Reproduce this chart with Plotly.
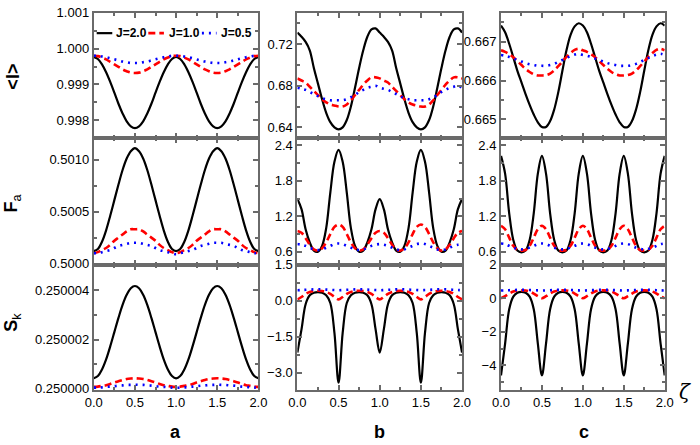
import plotly.graph_objects as go

W, H = 700, 445

zeta = [0.00, 0.05, 0.10, 0.15, 0.20, 0.25, 0.30, 0.35, 0.40, 0.45,
        0.50, 0.55, 0.60, 0.65, 0.70, 0.75, 0.80, 0.85, 0.90, 0.95,
        1.00, 1.05, 1.10, 1.15, 1.20, 1.25, 1.30, 1.35, 1.40, 1.45,
        1.50, 1.55, 1.60, 1.65, 1.70, 1.75, 1.80, 1.85, 1.90, 1.95, 2.00]

labels = ["J=2.0", "J=1.0", "J=0.5"]

# ---- row 1: <I> ----
I_a_J20 = [0.99977, 0.99971, 0.99956, 0.99934, 0.99907, 0.99877, 0.99846, 0.99819, 0.99797, 0.99783,
           0.99778, 0.99783, 0.99797, 0.99819, 0.99846, 0.99877, 0.99907, 0.99934, 0.99956, 0.99971,
           0.99977, 0.99971, 0.99956, 0.99934, 0.99907, 0.99877, 0.99846, 0.99819, 0.99797, 0.99783,
           0.99778, 0.99783, 0.99797, 0.99819, 0.99846, 0.99877, 0.99907, 0.99934, 0.99956, 0.99971, 0.99977]
I_a_J10 = [0.99980, 0.99979, 0.99975, 0.99970, 0.99963, 0.99956, 0.99949, 0.99942, 0.99937, 0.99933,
           0.99932, 0.99933, 0.99937, 0.99942, 0.99949, 0.99956, 0.99963, 0.99970, 0.99975, 0.99979,
           0.99980, 0.99979, 0.99975, 0.99970, 0.99963, 0.99956, 0.99949, 0.99942, 0.99937, 0.99933,
           0.99932, 0.99933, 0.99937, 0.99942, 0.99949, 0.99956, 0.99963, 0.99970, 0.99975, 0.99979, 0.99980]
I_a_J05 = [0.99980, 0.99980, 0.99978, 0.99976, 0.99973, 0.99970, 0.99967, 0.99964, 0.99962, 0.99960,
           0.99960, 0.99960, 0.99962, 0.99964, 0.99967, 0.99970, 0.99973, 0.99976, 0.99978, 0.99980,
           0.99980, 0.99980, 0.99978, 0.99976, 0.99973, 0.99970, 0.99967, 0.99964, 0.99962, 0.99960,
           0.99960, 0.99960, 0.99962, 0.99964, 0.99967, 0.99970, 0.99973, 0.99976, 0.99978, 0.99980, 0.99980]

I_b_J20 = [0.731, 0.727, 0.722, 0.714, 0.697, 0.682, 0.667, 0.654, 0.645, 0.640,
           0.638, 0.640, 0.647, 0.660, 0.678, 0.697, 0.714, 0.727, 0.734, 0.735,
           0.731, 0.727, 0.722, 0.714, 0.697, 0.682, 0.667, 0.654, 0.645, 0.640,
           0.638, 0.640, 0.647, 0.660, 0.678, 0.697, 0.714, 0.727, 0.734, 0.735, 0.731]
I_b_J10 = [0.687, 0.685, 0.683, 0.679, 0.675, 0.671, 0.667, 0.664, 0.662, 0.661,
           0.660, 0.660, 0.662, 0.666, 0.671, 0.676, 0.681, 0.685, 0.688, 0.688,
           0.687, 0.685, 0.683, 0.679, 0.675, 0.671, 0.667, 0.664, 0.662, 0.661,
           0.660, 0.660, 0.662, 0.666, 0.671, 0.676, 0.681, 0.685, 0.688, 0.688, 0.687]
I_b_J05 = [0.678, 0.677, 0.676, 0.674, 0.672, 0.670, 0.668, 0.667, 0.666, 0.666,
           0.666, 0.666, 0.667, 0.669, 0.671, 0.674, 0.676, 0.678, 0.679, 0.680,
           0.678, 0.677, 0.676, 0.674, 0.672, 0.670, 0.668, 0.667, 0.666, 0.666,
           0.666, 0.666, 0.667, 0.669, 0.671, 0.674, 0.676, 0.678, 0.679, 0.680, 0.678]

I_c_J20 = [0.66742, 0.66725, 0.66695, 0.66660, 0.66625, 0.66595, 0.66565, 0.66537, 0.66512, 0.66492,
           0.66480, 0.66480, 0.66495, 0.66525, 0.66570, 0.66625, 0.66678, 0.66718, 0.66740, 0.66748,
           0.66742, 0.66725, 0.66695, 0.66660, 0.66625, 0.66595, 0.66565, 0.66537, 0.66512, 0.66492,
           0.66480, 0.66480, 0.66495, 0.66525, 0.66570, 0.66625, 0.66678, 0.66718, 0.66740, 0.66748, 0.66742]
I_c_J10 = [0.66678, 0.66674, 0.66668, 0.66660, 0.66650, 0.66640, 0.66630, 0.66622, 0.66616, 0.66613,
           0.66613, 0.66614, 0.66618, 0.66626, 0.66637, 0.66649, 0.66661, 0.66671, 0.66679, 0.66682,
           0.66678, 0.66674, 0.66668, 0.66660, 0.66650, 0.66640, 0.66630, 0.66622, 0.66616, 0.66613,
           0.66613, 0.66614, 0.66618, 0.66626, 0.66637, 0.66649, 0.66661, 0.66671, 0.66679, 0.66682, 0.66678]
I_c_J05 = [0.66666, 0.66664, 0.66661, 0.66657, 0.66653, 0.66649, 0.66645, 0.66642, 0.66640, 0.66638,
           0.66638, 0.66638, 0.66640, 0.66643, 0.66648, 0.66653, 0.66658, 0.66663, 0.66667, 0.66669,
           0.66666, 0.66664, 0.66661, 0.66657, 0.66653, 0.66649, 0.66645, 0.66642, 0.66640, 0.66638,
           0.66638, 0.66638, 0.66640, 0.66643, 0.66648, 0.66653, 0.66658, 0.66663, 0.66667, 0.66669, 0.66666]

# ---- row 2: F_a ----
F_a_J20 = [0.50012, 0.50014, 0.50021, 0.50032, 0.50046, 0.50061, 0.50076, 0.50090, 0.50101, 0.50108,
           0.50111, 0.50108, 0.50101, 0.50090, 0.50076, 0.50061, 0.50046, 0.50032, 0.50021, 0.50014,
           0.50012, 0.50014, 0.50021, 0.50032, 0.50046, 0.50061, 0.50076, 0.50090, 0.50101, 0.50108,
           0.50111, 0.50108, 0.50101, 0.50090, 0.50076, 0.50061, 0.50046, 0.50032, 0.50021, 0.50014, 0.50012]
F_a_J10 = [0.50010, 0.50011, 0.50013, 0.50015, 0.50018, 0.50022, 0.50025, 0.50028, 0.50031, 0.50033,
           0.50033, 0.50033, 0.50031, 0.50028, 0.50025, 0.50022, 0.50018, 0.50015, 0.50013, 0.50011,
           0.50010, 0.50011, 0.50013, 0.50015, 0.50018, 0.50022, 0.50025, 0.50028, 0.50031, 0.50033,
           0.50033, 0.50033, 0.50031, 0.50028, 0.50025, 0.50022, 0.50018, 0.50015, 0.50013, 0.50011, 0.50010]
F_a_J05 = [0.50010, 0.50010, 0.50011, 0.50012, 0.50013, 0.50015, 0.50017, 0.50018, 0.50019, 0.50020,
           0.50020, 0.50020, 0.50019, 0.50018, 0.50017, 0.50015, 0.50013, 0.50012, 0.50011, 0.50010,
           0.50009, 0.50010, 0.50011, 0.50012, 0.50013, 0.50015, 0.50017, 0.50018, 0.50019, 0.50020,
           0.50020, 0.50020, 0.50019, 0.50018, 0.50017, 0.50015, 0.50013, 0.50012, 0.50011, 0.50010, 0.50010]

F_b_J20 = [1.49, 1.32, 0.98, 0.76, 0.62, 0.60, 0.70, 1.00, 1.60, 2.12,
           2.32, 2.12, 1.60, 1.00, 0.70, 0.60, 0.62, 0.76, 0.98, 1.32,
           1.49, 1.32, 0.98, 0.76, 0.62, 0.60, 0.70, 1.00, 1.60, 2.12,
           2.32, 2.12, 1.60, 1.00, 0.70, 0.60, 0.62, 0.76, 0.98, 1.32, 1.49]
F_b_J10 = [0.95, 0.92, 0.83, 0.72, 0.64, 0.62, 0.66, 0.76, 0.90, 1.02,
           1.06, 1.02, 0.90, 0.76, 0.66, 0.62, 0.64, 0.72, 0.83, 0.92,
           0.95, 0.92, 0.83, 0.72, 0.64, 0.62, 0.66, 0.76, 0.90, 1.02,
           1.06, 1.02, 0.90, 0.76, 0.66, 0.62, 0.64, 0.72, 0.83, 0.92, 0.95]
F_b_J05 = [0.73, 0.72, 0.70, 0.67, 0.64, 0.63, 0.64, 0.67, 0.70, 0.73,
           0.74, 0.73, 0.70, 0.67, 0.64, 0.63, 0.64, 0.67, 0.70, 0.72,
           0.73, 0.72, 0.70, 0.67, 0.64, 0.63, 0.64, 0.67, 0.70, 0.73,
           0.74, 0.73, 0.70, 0.67, 0.64, 0.63, 0.64, 0.67, 0.70, 0.72, 0.73]

F_c_J20 = [2.22, 1.92, 1.25, 0.80, 0.62, 0.59, 0.62, 0.80, 1.25, 1.92,
           2.22, 1.92, 1.25, 0.80, 0.62, 0.59, 0.62, 0.80, 1.25, 1.92,
           2.22, 1.92, 1.25, 0.80, 0.62, 0.59, 0.62, 0.80, 1.25, 1.92,
           2.22, 1.92, 1.25, 0.80, 0.62, 0.59, 0.62, 0.80, 1.25, 1.92, 2.22]
F_c_J10 = [1.04, 0.98, 0.84, 0.70, 0.63, 0.62, 0.63, 0.70, 0.84, 0.98,
           1.04, 0.98, 0.84, 0.70, 0.63, 0.62, 0.63, 0.70, 0.84, 0.98,
           1.04, 0.98, 0.84, 0.70, 0.63, 0.62, 0.63, 0.70, 0.84, 0.98,
           1.04, 0.98, 0.84, 0.70, 0.63, 0.62, 0.63, 0.70, 0.84, 0.98, 1.04]
F_c_J05 = [0.74, 0.73, 0.70, 0.67, 0.65, 0.64, 0.65, 0.67, 0.70, 0.73,
           0.74, 0.73, 0.70, 0.67, 0.65, 0.64, 0.65, 0.67, 0.70, 0.73,
           0.74, 0.73, 0.70, 0.67, 0.65, 0.64, 0.65, 0.67, 0.70, 0.73,
           0.74, 0.73, 0.70, 0.67, 0.65, 0.64, 0.65, 0.67, 0.70, 0.73, 0.74]

# ---- row 3: S_k ----
S_a_J20 = [0.25000042, 0.25000051, 0.25000078, 0.25000119, 0.25000172, 0.25000230, 0.25000288, 0.25000341, 0.25000382, 0.25000409,
           0.25000418, 0.25000409, 0.25000382, 0.25000341, 0.25000288, 0.25000230, 0.25000172, 0.25000119, 0.25000078, 0.25000051,
           0.25000042, 0.25000051, 0.25000078, 0.25000119, 0.25000172, 0.25000230, 0.25000288, 0.25000341, 0.25000382, 0.25000409,
           0.25000418, 0.25000409, 0.25000382, 0.25000341, 0.25000288, 0.25000230, 0.25000172, 0.25000119, 0.25000078, 0.25000051, 0.25000042]
S_a_J10 = [0.25000007, 0.25000008, 0.25000011, 0.25000014, 0.25000019, 0.25000025, 0.25000030, 0.25000035, 0.25000039, 0.25000041,
           0.25000042, 0.25000041, 0.25000039, 0.25000035, 0.25000030, 0.25000025, 0.25000019, 0.25000014, 0.25000011, 0.25000008,
           0.25000007, 0.25000008, 0.25000011, 0.25000014, 0.25000019, 0.25000025, 0.25000030, 0.25000035, 0.25000039, 0.25000041,
           0.25000042, 0.25000041, 0.25000039, 0.25000035, 0.25000030, 0.25000025, 0.25000019, 0.25000014, 0.25000011, 0.25000008, 0.25000007]
S_a_J05 = [0.25000004, 0.25000004, 0.25000005, 0.25000007, 0.25000008, 0.25000010, 0.25000012, 0.25000013, 0.25000015, 0.25000015,
           0.25000016, 0.25000015, 0.25000015, 0.25000013, 0.25000012, 0.25000010, 0.25000008, 0.25000007, 0.25000005, 0.25000004,
           0.25000003, 0.25000004, 0.25000005, 0.25000007, 0.25000008, 0.25000010, 0.25000012, 0.25000013, 0.25000015, 0.25000015,
           0.25000016, 0.25000015, 0.25000015, 0.25000013, 0.25000012, 0.25000010, 0.25000008, 0.25000007, 0.25000005, 0.25000004, 0.25000004]

S_b_J20 = [-2.17, -1.20, -0.15, 0.22, 0.33, 0.35, 0.33, 0.22, -0.10, -1.35,
           -3.42, -1.35, -0.10, 0.22, 0.33, 0.35, 0.33, 0.22, -0.15, -1.20,
           -2.17, -1.20, -0.15, 0.22, 0.33, 0.35, 0.33, 0.22, -0.10, -1.35,
           -3.42, -1.35, -0.10, 0.22, 0.33, 0.35, 0.33, 0.22, -0.15, -1.20, -2.17]
S_b_J10 = [0.05, 0.15, 0.28, 0.36, 0.40, 0.41, 0.40, 0.36, 0.28, 0.15,
           0.05, 0.15, 0.28, 0.36, 0.40, 0.41, 0.40, 0.36, 0.28, 0.15,
           0.05, 0.15, 0.28, 0.36, 0.40, 0.41, 0.40, 0.36, 0.28, 0.15,
           0.05, 0.15, 0.28, 0.36, 0.40, 0.41, 0.40, 0.36, 0.28, 0.15, 0.05]
S_b_J05 = [0.43, 0.44, 0.45, 0.46, 0.47, 0.47, 0.47, 0.46, 0.45, 0.44,
           0.43, 0.44, 0.45, 0.46, 0.47, 0.47, 0.47, 0.46, 0.45, 0.44,
           0.43, 0.44, 0.45, 0.46, 0.47, 0.47, 0.47, 0.46, 0.45, 0.44,
           0.43, 0.44, 0.45, 0.46, 0.47, 0.47, 0.47, 0.46, 0.45, 0.44, 0.43]

S_c_J20 = [-4.60, -2.70, -0.65, 0.10, 0.33, 0.38, 0.33, 0.10, -0.65, -2.70,
           -4.60, -2.70, -0.65, 0.10, 0.33, 0.38, 0.33, 0.10, -0.65, -2.70,
           -4.60, -2.70, -0.65, 0.10, 0.33, 0.38, 0.33, 0.10, -0.65, -2.70,
           -4.60, -2.70, -0.65, 0.10, 0.33, 0.38, 0.33, 0.10, -0.65, -2.70, -4.60]
S_c_J10 = [0.00, 0.12, 0.28, 0.40, 0.46, 0.47, 0.46, 0.40, 0.28, 0.12,
           0.00, 0.12, 0.28, 0.40, 0.46, 0.47, 0.46, 0.40, 0.28, 0.12,
           0.00, 0.12, 0.28, 0.40, 0.46, 0.47, 0.46, 0.40, 0.28, 0.12,
           0.00, 0.12, 0.28, 0.40, 0.46, 0.47, 0.46, 0.40, 0.28, 0.12, 0.00]
S_c_J05 = [0.46, 0.47, 0.48, 0.49, 0.50, 0.50, 0.50, 0.49, 0.48, 0.47,
           0.46, 0.47, 0.48, 0.49, 0.50, 0.50, 0.50, 0.49, 0.48, 0.47,
           0.46, 0.47, 0.48, 0.49, 0.50, 0.50, 0.50, 0.49, 0.48, 0.47,
           0.46, 0.47, 0.48, 0.49, 0.50, 0.50, 0.50, 0.49, 0.48, 0.47, 0.46]

panel_data = [
    [(I_a_J20, I_a_J10, I_a_J05), (I_b_J20, I_b_J10, I_b_J05), (I_c_J20, I_c_J10, I_c_J05)],
    [(F_a_J20, F_a_J10, F_a_J05), (F_b_J20, F_b_J10, F_b_J05), (F_c_J20, F_c_J10, F_c_J05)],
    [(S_a_J20, S_a_J10, S_a_J05), (S_b_J20, S_b_J10, S_b_J05), (S_c_J20, S_c_J10, S_c_J05)],
]

# y-axis settings per panel: range, dtick, minor dtick, format
y_cfg = [
    [([0.99751, 1.0010005], 0.001, 0.0005, ".3f"),
     ([0.630, 0.750], 0.04, 0.02, ".2f"),
     ([0.66452, 0.66775], 0.001, 0.0005, ".3f")],
    [([0.49999, 0.50121], 0.0005, 0.00025, ".4f"),
     ([0.383, 2.526], 0.6, 0.3, ".1f"),
     ([0.383, 2.526], 0.6, 0.3, ".1f")],
    [([0.24999996, 0.25000505], 0.000002, 0.000001, ".6f"),
     ([-3.71, 1.5005], 1.5, 0.75, ".1f"),
     ([-5.44, 2.003], 2, 1, "d")],
]

# pixel layout
col_px = [(87, 256), (296, 465), (505, 673)]
row_px = [(6, 135), (135, 266), (266, 395)]

def px_x(p):
    return p / W

def px_y(p):
    return 1 - p / H

styles = [
    dict(color="#000000", width=2.2, dash="solid"),
    dict(color="#FF0000", width=2.6, dash="7px,4px"),
    dict(color="#0000FF", width=2.6, dash="2px,5px"),
]

AX = "#6a6a6a"
FONT = "Liberation Sans, Arial, sans-serif"

fig = go.Figure()
layout = {}
for r in range(3):
    for c in range(3):
        i = r * 3 + c + 1
        xs = "" if i == 1 else str(i)
        for k, ys in enumerate(panel_data[r][c]):
            fig.add_trace(go.Scatter(
                x=zeta, y=ys, mode="lines", name=labels[k],
                line=dict(color=styles[k]["color"], width=styles[k]["width"],
                          dash=styles[k]["dash"], shape="spline", smoothing=1.0),
                xaxis="x" + xs, yaxis="y" + xs, showlegend=False))
        rng, dt, mdt, fmt = y_cfg[r][c]
        layout["xaxis" + xs] = dict(
            domain=[px_x(col_px[c][0]), px_x(col_px[c][1])],
            anchor="y" + xs, range=[0, 2.0001], tick0=0, dtick=0.5,
            tickformat=".1f", showticklabels=(r == 2),
            ticks="inside", ticklen=5, tickwidth=1.5, tickcolor=AX,
            minor=dict(ticks="inside", dtick=0.25, ticklen=3, tickwidth=1.5, tickcolor=AX),
            showline=True, linecolor=AX, linewidth=2, mirror="allticks",
            showgrid=False, zeroline=False,
            tickfont=dict(family=FONT, size=13, color="#000"))
        layout["yaxis" + xs] = dict(
            domain=[px_y(row_px[r][1]), px_y(row_px[r][0])],
            anchor="x" + xs, range=rng, tick0=0, dtick=dt, tickformat=fmt,
            ticks="inside", ticklen=5, tickwidth=1.5, tickcolor=AX,
            minor=dict(ticks="inside", dtick=mdt, ticklen=3, tickwidth=1.5, tickcolor=AX),
            showline=True, linecolor=AX, linewidth=2, mirror="allticks",
            showgrid=False, zeroline=False,
            tickfont=dict(family=FONT, size=13, color="#000"))

annotations = []
# y titles
for txt, yc in [("<b>&lt;I&gt;</b>", 72), ("<b>F</b><sub>a</sub>", 203), ("<b>S</b><sub>k</sub>", 325)]:
    annotations.append(dict(text=txt, x=px_x(4), y=px_y(yc), xref="paper", yref="paper",
                            xanchor="center", yanchor="middle", textangle=-90, showarrow=False,
                            font=dict(family=FONT, size=18, color="#000")))
# panel letters
for txt, xc in [("a", 171), ("b", 380), ("c", 590)]:
    annotations.append(dict(text="<b>" + txt + "</b>", x=px_x(xc), y=px_y(439), xref="paper", yref="paper",
                            xanchor="center", yanchor="middle", showarrow=False,
                            font=dict(family=FONT, size=18, color="#000")))
# zeta
annotations.append(dict(text="<i>ζ</i>", x=px_x(694), y=px_y(398), xref="paper", yref="paper",
                        xanchor="center", yanchor="middle", showarrow=False,
                        font=dict(family="DejaVu Serif, serif", size=20, color="#000")))

# legend (drawn manually, compact)
leg_y = px_y(27)
shapes = []
leg_items = [(90, 106, 108), (143, 159, 162), (198, 213, 216)]
for k, (x0, x1, xt) in enumerate(leg_items):
    shapes.append(dict(type="line", xref="paper", yref="paper",
                       x0=px_x(x0), x1=px_x(x1), y0=leg_y, y1=leg_y,
                       line=dict(color=styles[k]["color"], width=styles[k]["width"],
                                 dash=styles[k]["dash"])))
    annotations.append(dict(text="<b>" + labels[k] + "</b>", x=px_x(xt), y=leg_y,
                            xref="paper", yref="paper", xanchor="left", yanchor="middle",
                            showarrow=False, font=dict(family=FONT, size=12, color="#000")))

fig.update_layout(
    width=W, height=H, margin=dict(l=0, r=0, t=0, b=0),
    paper_bgcolor="white", plot_bgcolor="white",
    showlegend=False, annotations=annotations, shapes=shapes,
    **layout)

fig.write_html("out.html")
